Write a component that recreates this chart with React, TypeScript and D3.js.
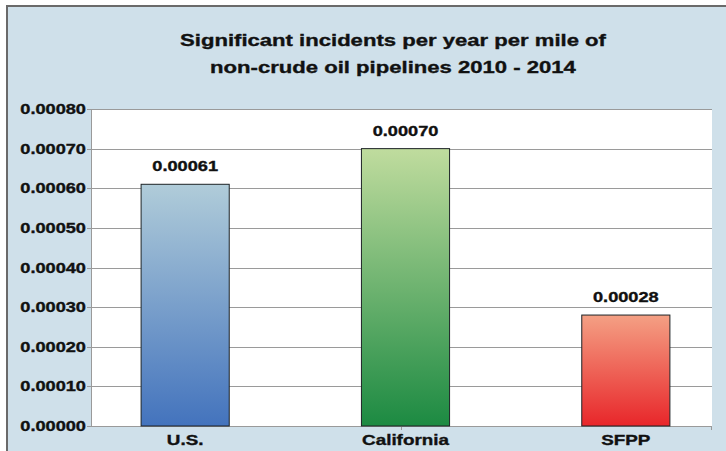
import React from "react";
import * as d3 from "d3";

const categories: string[] = ["U.S.", "California", "SFPP"];
const values: number[] = [0.00061, 0.0007, 0.00028];
const yTicks: number[] = [0, 0.0001, 0.0002, 0.0003, 0.0004, 0.0005, 0.0006, 0.0007, 0.0008];
const titleLines: string[] = [
  "Significant incidents per year per mile of",
  "non-crude oil pipelines 2010 - 2014",
];
const gradientTops: string[] = ["#b0ccd9", "#c0dc9e", "#f4a084"];
const gradientBottoms: string[] = ["#4373bd", "#1c8a42", "#e8262a"];

const W = 726;
const H = 451;
const SX = 1.3;
const FONT = "'Liberation Sans', Arial, Helvetica, sans-serif";

export default function App() {
  const plotL = 91;
  const plotR = 712;
  const plotT = 109;
  const plotB = 426;

  const y = d3.scaleLinear().domain([0, 0.0008]).range([plotB, plotT]);
  const x = d3
    .scaleBand<string>()
    .domain(categories)
    .range([75, 736])
    .paddingInner(0.6)
    .paddingOuter(0.3);
  const fmt = d3.format(".5f");

  const stretched = (
    tx: number,
    ty: number,
    s: string,
    size: number,
    anchor: "start" | "middle" | "end",
    key?: string
  ) => (
    <text
      key={key}
      transform={`translate(${tx},${ty}) scale(${SX},1)`}
      textAnchor={anchor}
      fontFamily={FONT}
      fontWeight="bold"
      fontSize={size}
      fill="#111"
      stroke="#111"
      strokeWidth={0.35}
    >
      {s}
    </text>
  );

  return (
    <svg
      width={W}
      height={H}
      style={{ position: "absolute", left: 0, top: 0, display: "block" }}
    >
      <defs>
        {categories.map((c, i) => (
          <linearGradient key={c} id={`grad${i}`} x1="0" y1="0" x2="0" y2="1">
            <stop offset="0%" stopColor={gradientTops[i]} />
            <stop offset="100%" stopColor={gradientBottoms[i]} />
          </linearGradient>
        ))}
      </defs>
      <rect x={0} y={0} width={W} height={H} fill="#ffffff" />
      <rect x={6} y={5} width={W - 6} height={H - 5} fill="#cfe0ea" />
      <line x1={6} y1={6} x2={W} y2={6} stroke="#6a6a6a" strokeWidth={2} />
      <line x1={7} y1={5} x2={7} y2={H} stroke="#6a6a6a" strokeWidth={2} />

      {titleLines.map((t, i) =>
        stretched(393, 46 + i * 27, t, 17, "middle", `t${i}`)
      )}

      <rect
        x={plotL}
        y={plotT}
        width={plotR - plotL}
        height={plotB - plotT}
        fill="#ffffff"
      />

      {yTicks.map((t) => (
        <g key={t}>
          <line
            x1={plotL - 4}
            x2={plotR}
            y1={Math.round(y(t)) + 0.5}
            y2={Math.round(y(t)) + 0.5}
            stroke="#9a9a9a"
            strokeWidth={1}
          />
          {stretched(86, y(t) + 5, fmt(t), 14, "end")}
        </g>
      ))}

      <line
        x1={plotL + 0.5}
        x2={plotL + 0.5}
        y1={plotT}
        y2={plotB + 1}
        stroke="#9a9a9a"
        strokeWidth={1}
      />
      {[401.5, plotR - 0.5].map((tx) => (
        <line
          key={tx}
          x1={tx}
          x2={tx}
          y1={plotB}
          y2={plotB + 4}
          stroke="#9a9a9a"
          strokeWidth={1}
        />
      ))}

      {categories.map((c, i) => {
        const bx = x(c) as number;
        const bw = x.bandwidth();
        const top = y(values[i]);
        return (
          <g key={c}>
            <rect
              x={bx}
              y={top}
              width={bw}
              height={plotB - top}
              fill={`url(#grad${i})`}
              stroke="#1d2326"
              strokeWidth={1}
            />
            {stretched(bx + bw / 2, top - 13, fmt(values[i]), 14, "middle")}
            {stretched(bx + bw / 2, 445, c, 14.5, "middle")}
          </g>
        );
      })}
    </svg>
  );
}
